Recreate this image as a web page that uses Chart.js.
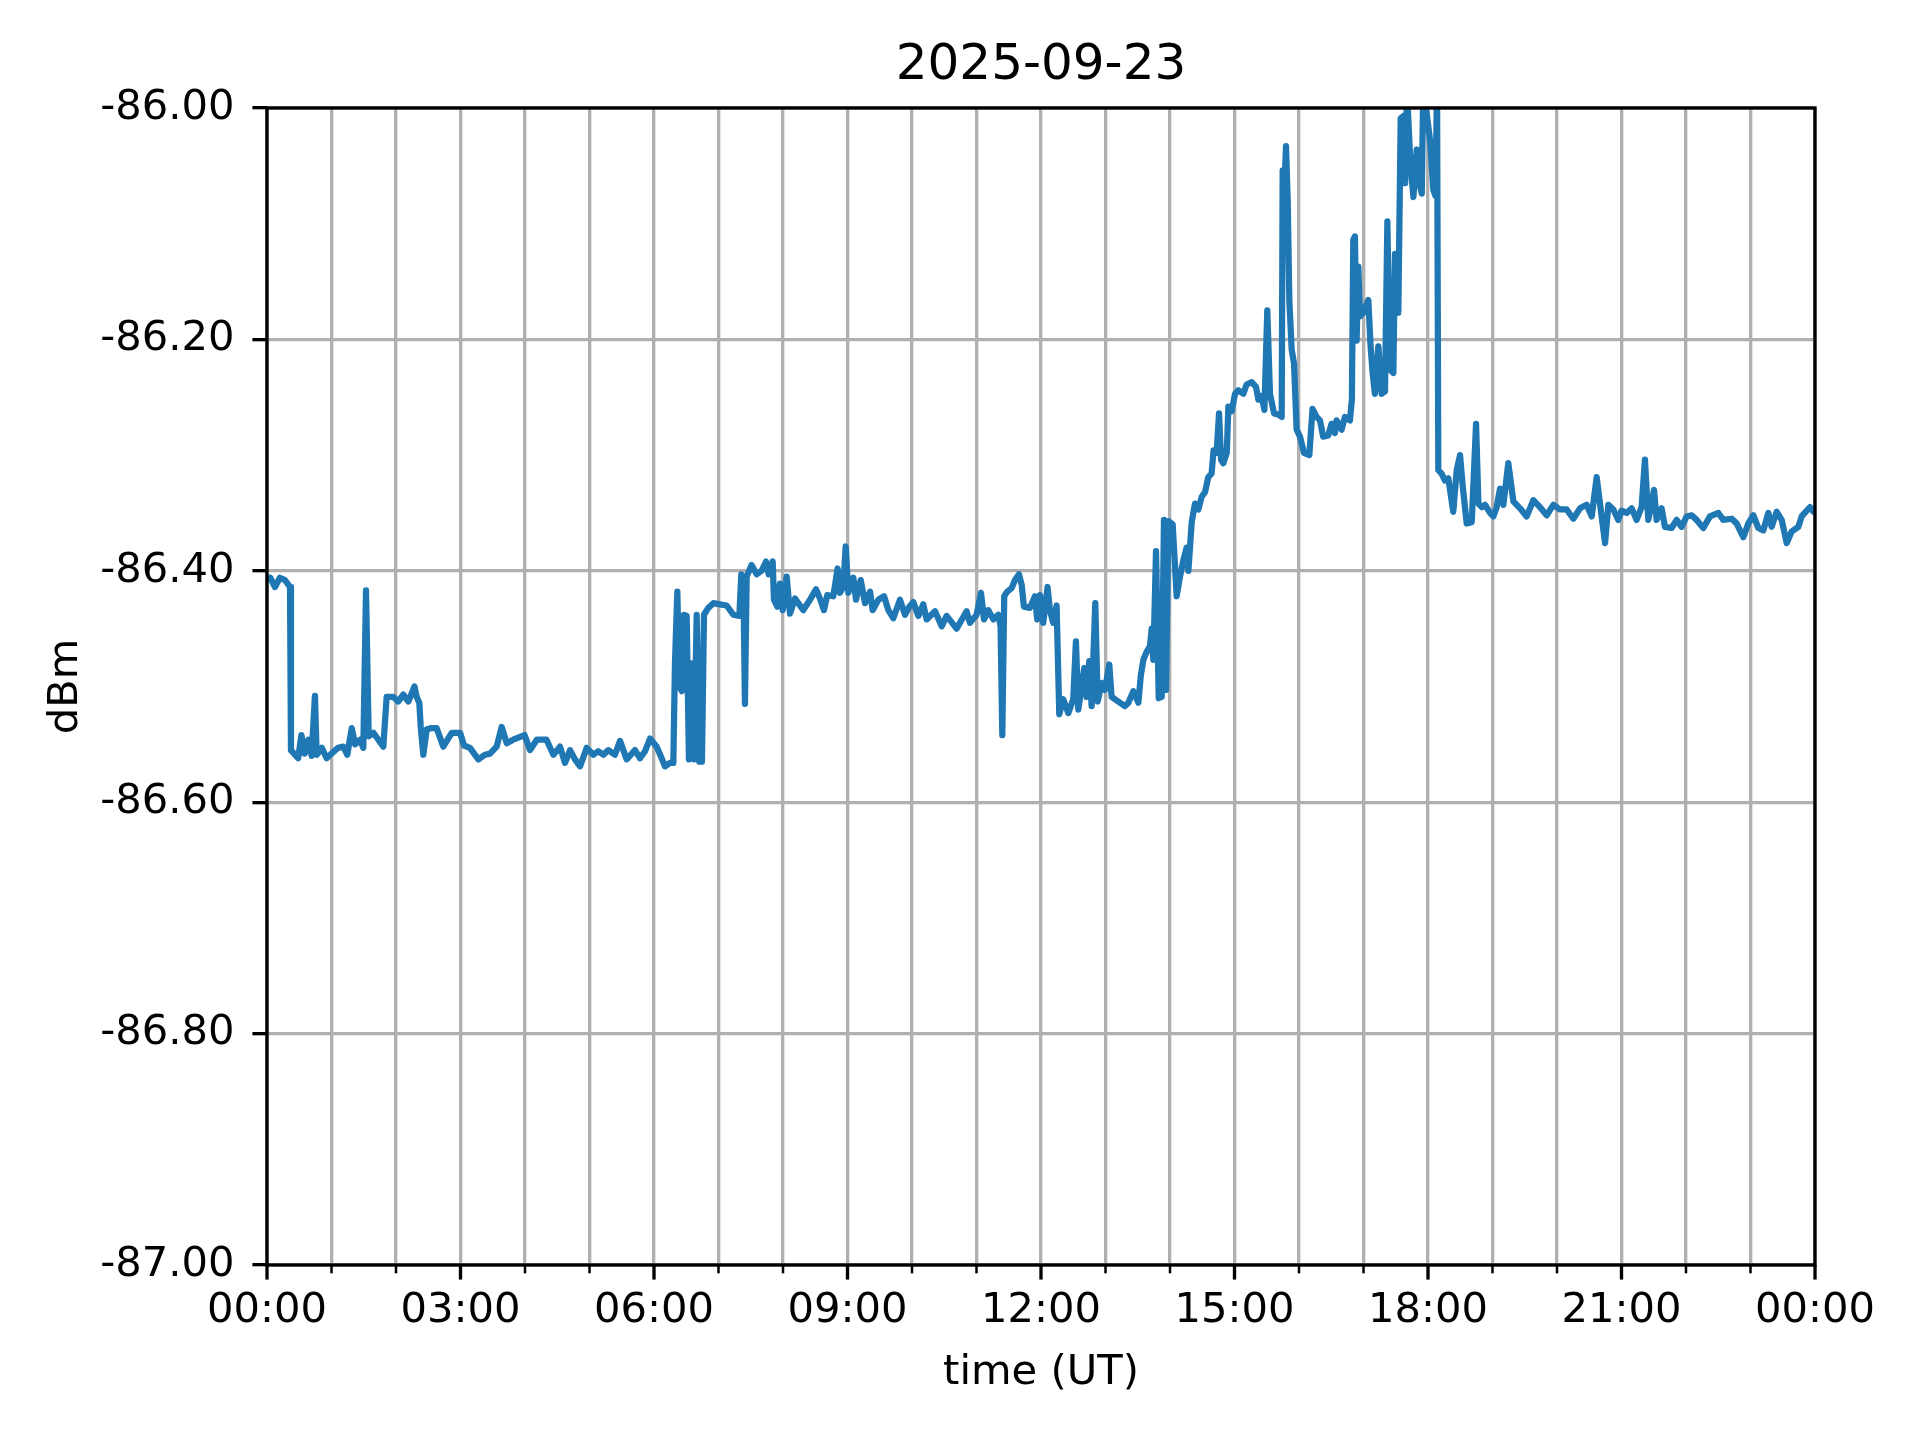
<!DOCTYPE html>
<html>
<head>
<meta charset="utf-8">
<script src="https://cdn.jsdelivr.net/npm/chart.js@4/dist/chart.umd.min.js"></script>
<style>
html,body{margin:0;padding:0;background:#ffffff;}
canvas{display:block;}
</style>
</head>
<body>
<canvas id="chart" width="1920" height="1440" style="width:1920px;height:1440px"></canvas>
<script>
// ---- data (time in minutes after 00:00 UT, value in dBm) ----
const timeMin = [
  0,3,7.4,12,16.7,21.4,22.3,26,29,32,
  35,38.5,41.5,44.6,46.2,51,55.5,60,66,71,
  74.7,78.8,82,86.5,89.6,92.1,94.6,99,103.6,108.2,
  111.3,117.5,122,126.8,131.5,137.2,139.2,141.7,143,145.4,
  148.6,153,157.8,164,171.8,179.6,183.3,188.8,196.6,202.8,
  207.5,213.6,218.3,223,229,239.6,244.7,251,260,266.4,
  272.6,277.2,281.9,286.5,291.2,297.4,303.6,308.2,312.9,317.5,
  323.7,328.4,334.6,342.3,347,351.6,356.3,362.5,367.1,370.2,
  374.9,378,379.5,381.7,383.6,386,387.9,390.4,392.5,395,
  397.2,399.7,402.1,404.6,406.5,410.5,415.2,421.4,427.6,433.8,
  439.4,441.2,443.1,444.6,446.2,450.8,455.5,460.1,464.2,466.7,
  470.4,471.6,474.7,477.2,479.7,483.4,486.5,491.2,498.9,505.1,
  510.7,514.4,518.1,521.2,526.8,530.8,
  533,536.1,538.3,540.8,545.4,547.9,552.3,556.3,561,563.4,
  568.7,574,578,582.6,588.8,593.5,597.5,601.2,605.9,610.5,
  613.6,621.4,627.6,632.2,641.5,650.8,653.9,660.1,664.2,667,
  671,675.6,680.3,682.4,684,685.8,688.6,692.7,695.8,699.5,
  702,704.1,709.7,714.4,716.5,719,722.1,726.1,728.3,731.4,
  734.5,737,740.7,745.4,750,752.5,754.7,760.3,762.4,764.9,
  767.1,770.5,772.7,776.4,779.5,783.5,785.7,793.5,
  798.1,801.3,805.9,810.6,812.8,815.2,818.3,821.4,823,824.5,
  827,829.5,832.3,834.4,836.3,838.5,842.5,846.2,849.3,852.4,
  855.5,857.1,860.2,863.2,866.4,869.5,872.6,875.6,878.7,880.5,
  883.4,885.6,887.5,889.6,892.8,894.3,897.4,900.5,903.6,908.2,
  911.3,916,920,922.2,925.3,927.8,930.5,933,936.8,940.8,
  943.9,944.8,946.1,947.9,949.5,951,953.2,955.4,957.8,960.9,
  964.6,969.6,972.6,976.4,979.5,982.5,987.2,990.3,993.4,995,
  999.6,1002.7,1007.4,1009.2,1010.5,1012,1013.6,1015.2,1016.7,1019.8,
  1024.5,1026.6,1028.5,1030.6,1033.8,1036.9,1040,1042.2,1044.6,1047.8,
  1049.3,1052.4,1054.6,1057.1,1058.8,1060.5,1063.3,1066.4,1069.5,1071,
  1074.2,1075.6,1078.8,1081.9,1085,1087,1088.4,1089.6,1092.7,1095.8,
  1098.9,1100.5,1103.5,1106.7,1109.8,1112.3,1116,1120.7,1124.7,1126.9,
  1130,1133.1,1137.7,1140.8,1143.9,1147,1150.1,1154.7,1159.4,1165.6,
  1171.8,1178,1184.2,1190.4,1196.6,1202.8,1209,1215.2,1221.4,1227.6,
  1232.3,1236.9,1240,1244.7,1247.8,1252.4,1257,1260.1,1264.8,1269.4,
  1274.1,1278.7,1281.8,1284.9,1288,1290.2,1292.7,1297.3,1300.4,1306.6,
  1311.3,1315.9,1320.6,1325.2,1329.9,1336.1,1342.3,1350.1,1354.7,1362.5,
  1367.1,1373.3,1378,1382.6,1387.3,1391.9,1396.6,1399.7,1404.4,1409,
  1413.7,1418.3,1424.5,1427.6,1432.3,1435.4,1438.5,1440
];
const dbm = [
  -86.406,-86.406,-86.414,-86.406,-86.408,-86.414,-86.555,-86.559,-86.562,-86.542,
  -86.558,-86.546,-86.560,-86.508,-86.559,-86.553,-86.562,-86.558,-86.553,-86.552,
  -86.559,-86.536,-86.550,-86.546,-86.553,-86.417,-86.543,-86.540,-86.546,-86.552,
  -86.509,-86.509,-86.513,-86.507,-86.513,-86.500,-86.509,-86.514,-86.535,-86.559,
  -86.537,-86.536,-86.536,-86.552,-86.540,-86.540,-86.551,-86.553,-86.563,-86.559,
  -86.558,-86.552,-86.535,-86.549,-86.546,-86.542,-86.555,-86.546,-86.546,-86.559,
  -86.552,-86.566,-86.555,-86.563,-86.569,-86.553,-86.559,-86.556,-86.559,-86.555,
  -86.559,-86.547,-86.563,-86.555,-86.562,-86.556,-86.545,-86.552,-86.562,-86.569,
  -86.566,-86.566,-86.480,-86.418,-86.500,-86.504,-86.438,-86.439,-86.563,-86.480,
  -86.563,-86.438,-86.565,-86.565,-86.438,-86.432,-86.428,-86.429,-86.430,-86.438,
  -86.439,-86.403,-86.408,-86.515,-86.405,-86.395,-86.403,-86.400,-86.392,-86.403,
  -86.392,-86.425,-86.431,-86.411,-86.434,-86.405,-86.437,-86.424,-86.434,-86.425,
  -86.416,-86.424,-86.434,-86.421,-86.422,-86.398,
  -86.419,-86.414,-86.379,-86.419,-86.406,-86.425,-86.408,-86.428,-86.418,-86.434,
  -86.425,-86.422,-86.434,-86.441,-86.425,-86.438,-86.431,-86.427,-86.439,-86.429,
  -86.442,-86.435,-86.448,-86.439,-86.450,-86.435,-86.445,-86.438,-86.419,-86.442,
  -86.434,-86.442,-86.438,-86.448,-86.542,-86.422,-86.418,-86.415,-86.408,-86.403,
  -86.412,-86.431,-86.432,-86.422,-86.442,-86.421,-86.445,-86.414,-86.434,-86.445,
  -86.430,-86.524,-86.511,-86.523,-86.511,-86.461,-86.520,-86.484,-86.509,-86.478,
  -86.517,-86.428,-86.513,-86.497,-86.503,-86.481,-86.509,-86.514,
  -86.517,-86.514,-86.504,-86.514,-86.491,-86.477,-86.470,-86.465,-86.450,-86.477,
  -86.383,-86.510,-86.509,-86.356,-86.503,-86.357,-86.360,-86.422,-86.405,-86.391,
  -86.380,-86.400,-86.358,-86.342,-86.347,-86.336,-86.332,-86.319,-86.316,-86.296,
  -86.298,-86.264,-86.304,-86.307,-86.298,-86.258,-86.262,-86.247,-86.244,-86.247,
  -86.239,-86.237,-86.241,-86.252,-86.249,-86.261,-86.175,-86.247,-86.264,-86.265,
  -86.267,-86.054,-86.080,-86.033,-86.080,-86.166,-86.209,-86.221,-86.278,-86.284,
  -86.298,-86.300,-86.260,-86.267,-86.270,-86.284,-86.283,-86.273,-86.281,-86.270,
  -86.278,-86.267,-86.270,-86.252,-86.114,-86.111,-86.201,-86.137,-86.180,-86.177,
  -86.166,-86.206,-86.229,-86.247,-86.206,-86.247,-86.245,-86.098,-86.226,-86.229,
  -86.126,-86.177,-86.009,-86.007,-86.065,-85.985,-86.042,-86.077,-86.036,-86.062,
  -86.074,-85.980,-86.005,-86.028,-86.071,-86.076,-85.980,-86.313,-86.316,-86.322,
  -86.320,-86.330,-86.349,-86.313,-86.300,-86.327,-86.359,-86.358,-86.273,-86.342,
  -86.345,-86.343,-86.350,-86.353,-86.345,-86.329,-86.343,-86.307,-86.340,-86.346,
  -86.353,-86.339,-86.345,-86.352,-86.343,-86.347,-86.347,-86.355,-86.346,-86.343,
  -86.353,-86.319,-86.342,-86.376,-86.343,-86.347,-86.356,-86.348,-86.350,-86.346,
  -86.356,-86.345,-86.304,-86.356,-86.342,-86.330,-86.356,-86.346,-86.362,-86.363,
  -86.356,-86.362,-86.353,-86.352,-86.356,-86.363,-86.353,-86.350,-86.356,-86.355,
  -86.359,-86.371,-86.359,-86.352,-86.363,-86.365,-86.350,-86.362,-86.349,-86.356,
  -86.376,-86.366,-86.362,-86.353,-86.348,-86.345,-86.349,-86.347
];
const xTickLabels = ['00:00','03:00','06:00','09:00','12:00','15:00','18:00','21:00','00:00'];
const chartTitle = '2025-09-23';
const xAxisTitle = 'time (UT)';
const yAxisTitle = 'dBm';

// ---- styling ----
const PT = 300 / 72;
const FAMILY = "'DejaVu Sans', 'Liberation Sans', sans-serif";
const TICK_FONT = { family: FAMILY, size: 10 * PT, lineHeight: 1.2 };
const LINE_BLUE = '#1f77b4';
const GRID_GREY = '#b0b0b0';

const points = timeMin.map((t, i) => ({ x: t, y: dbm[i] }));

const frame = {
  id: 'frame',
  afterDatasetsDraw(chart) {
    const { ctx, chartArea: a, scales: { x } } = chart;
    ctx.save();
    ctx.strokeStyle = '#000';
    ctx.lineCap = 'butt';
    x.ticks.forEach(tk => {
      const px = x.getPixelForValue(tk.value);
      const major = tk.value % 180 === 0;
      ctx.lineWidth = major ? 0.8 * PT : 0.6 * PT;
      ctx.beginPath();
      ctx.moveTo(px, a.bottom);
      ctx.lineTo(px, a.bottom + (major ? 3.5 : 2) * PT);
      ctx.stroke();
    });
    ctx.lineWidth = 0.8 * PT;
    ctx.lineJoin = 'miter';
    ctx.strokeRect(a.left, a.top, a.right - a.left, a.bottom - a.top);
    ctx.restore();
  }
};

new Chart(document.getElementById('chart'), {
  type: 'line',
  data: {
    datasets: [{
      data: points,
      borderColor: LINE_BLUE,
      borderWidth: 1.5 * PT,
      pointRadius: 0,
      tension: 0,
      borderJoinStyle: 'round',
      borderCapStyle: 'square',
      fill: false
    }]
  },
  options: {
    responsive: false,
    animation: false,
    devicePixelRatio: 1,
    layout: { padding: { left: 0, right: 105, top: 0, bottom: 0 } },
    plugins: {
      legend: { display: false },
      tooltip: { enabled: false },
      title: {
        display: true,
        text: chartTitle,
        color: '#000',
        fullSize: false,
        font: { family: FAMILY, size: 12 * PT, weight: 'normal', lineHeight: 1.2 },
        padding: { top: 36, bottom: 12 }
      }
    },
    scales: {
      x: {
        type: 'linear',
        min: 0,
        max: 1440,
        ticks: {
          stepSize: 60,
          maxTicksLimit: 100,
          autoSkip: false,
          maxRotation: 0,
          minRotation: 0,
          padding: 7,
          color: '#000',
          font: TICK_FONT,
          callback: v => (v % 180 === 0 ? xTickLabels[v / 180] : '')
        },
        grid: {
          color: GRID_GREY,
          lineWidth: 0.8 * PT,
          drawTicks: true,
          tickLength: 3.5 * PT,
          tickColor: 'rgba(0,0,0,0)'
        },
        border: { display: false },
        title: {
          display: true,
          text: xAxisTitle,
          color: '#000',
          font: TICK_FONT,
          padding: { top: 0, bottom: 42 }
        },
        afterFit(s) { s.height = 175; }
      },
      y: {
        type: 'linear',
        min: -87,
        max: -86,
        ticks: {
          stepSize: 0.2,
          maxTicksLimit: 100,
          padding: 18,
          color: '#000',
          font: TICK_FONT,
          callback: v => Number(v).toFixed(2)
        },
        grid: {
          color: GRID_GREY,
          lineWidth: 0.8 * PT,
          tickColor: '#000',
          tickWidth: 0.8 * PT,
          tickLength: 3.5 * PT
        },
        border: { display: false },
        title: {
          display: true,
          text: yAxisTitle,
          color: '#000',
          font: TICK_FONT,
          padding: { top: 41, bottom: 0 }
        },
        afterFit(s) { s.width = 267; }
      }
    }
  },
  plugins: [frame]
});
</script>
</body>
</html>
